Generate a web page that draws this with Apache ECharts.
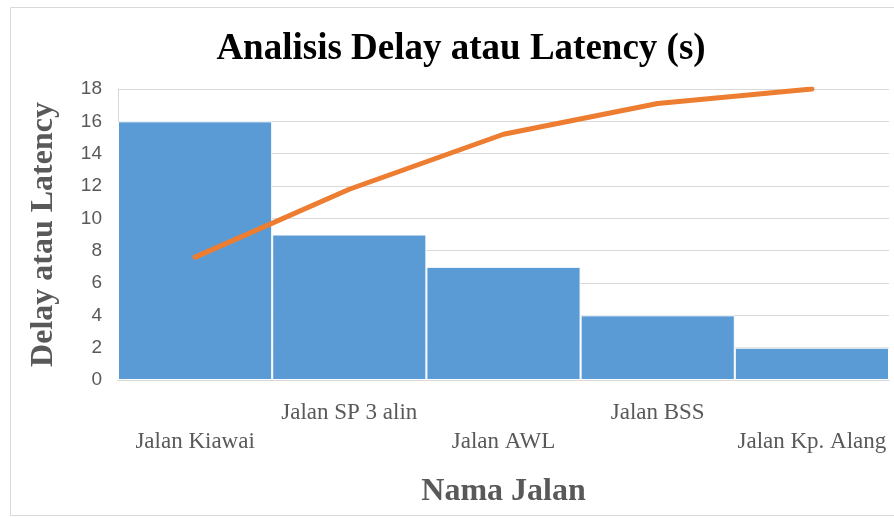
<!DOCTYPE html>
<html>
<head>
<meta charset="utf-8">
<script src="https://cdn.jsdelivr.net/npm/echarts@6/dist/echarts.min.js"></script>
<style>html,body{margin:0;padding:0;background:#fff}#c{width:894px;height:518px}</style>
</head>
<body>
<div id="c"></div>
<script>
const categories = ['Jalan Kiawai', 'Jalan SP 3 alin', 'Jalan AWL', 'Jalan BSS', 'Jalan Kp. Alang'];
const delayValues = [16, 9, 7, 4, 2];
const cumulativeLine = [7.6, 11.8, 15.2, 17.1, 18];
const yTicks = { min: 0, max: 18, interval: 2 };

const chart = echarts.init(document.getElementById('c'), null, { renderer: 'canvas' });
chart.setOption({
  backgroundColor: '#ffffff',
  animation: false,
  title: {
    text: 'Analisis Delay atau Latency (s)',
    left: 456, top: 26, textAlign: 'center',
    textStyle: { fontFamily: 'Liberation Serif', fontWeight: 'bold', fontSize: 37, color: '#000000' }
  },
  graphic: [{
    type: 'rect', shape: { x: 10.5, y: 7.5, width: 900, height: 508 },
    style: { fill: 'none', stroke: '#d9d9d9', lineWidth: 1 }, silent: true, z: -1
  }],
  grid: { left: 118, right: 5, top: 89, bottom: 138, outerBoundsMode: 'none', containLabel: false },
  xAxis: {
    type: 'category', data: categories,
    name: 'Nama Jalan', nameLocation: 'middle', nameGap: 96,
    nameTextStyle: { fontFamily: 'Liberation Serif', fontWeight: 'bold', fontSize: 32, color: '#595959' },
    axisLine: { show: true, lineStyle: { color: '#d9d9d9' } },
    axisTick: { show: false },
    axisLabel: {
      interval: 0, margin: 18, fontFamily: 'Liberation Serif', fontSize: 23, color: '#595959', lineHeight: 29,
      formatter: (v, i) => (i % 2 === 0 ? '\n' + v : v)
    }
  },
  yAxis: {
    type: 'value', min: yTicks.min, max: yTicks.max, interval: yTicks.interval,
    name: 'Delay atau Latency', nameLocation: 'middle', nameGap: 58, nameRotate: 90,
    nameTextStyle: { fontFamily: 'Liberation Serif', fontWeight: 'bold', fontSize: 32, color: '#595959' },
    axisLine: { show: true, lineStyle: { color: '#d9d9d9' } },
    axisTick: { show: false },
    axisLabel: { fontFamily: 'Liberation Sans', fontSize: 19, color: '#595959', margin: 16 },
    splitLine: { lineStyle: { color: '#d9d9d9', width: 1 } }
  },
  series: [{
    type: 'bar', data: delayValues, barWidth: '100%', barCategoryGap: 0,
    itemStyle: { color: '#5b9bd5', borderColor: '#ffffff', borderWidth: 1 }
  }, {
    type: 'line', data: cumulativeLine, symbol: 'none',
    lineStyle: { color: '#ed7d31', width: 5, cap: 'round', join: 'round' }, z: 5
  }]
});
</script>
</body>
</html>
